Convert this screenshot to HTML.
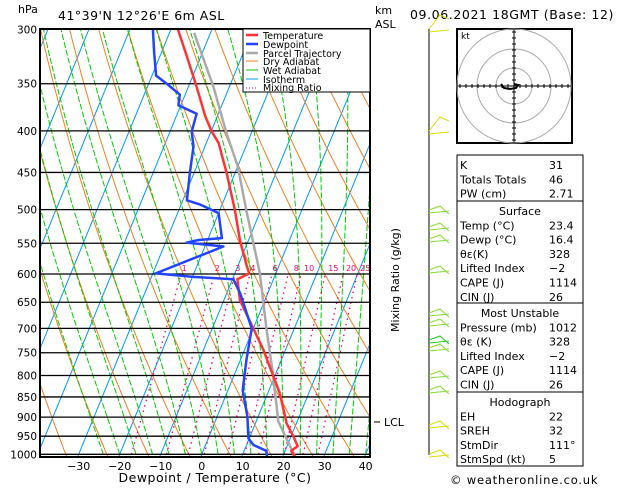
<!DOCTYPE html>
<html><head><meta charset="utf-8">
<style>
html,body{margin:0;padding:0;background:#fff;}
body{width:629px;height:486px;overflow:hidden;font-family:"Liberation Sans","DejaVu Sans",sans-serif;}
svg text{font-family:"DejaVu Sans","Liberation Sans",sans-serif;}
</style></head>
<body>
<svg id="chart" width="629" height="486" viewBox="0 0 629 486" xmlns="http://www.w3.org/2000/svg">
<defs><clipPath id="plotclip"><rect x="40" y="29" width="330" height="428"/></clipPath></defs>
<g id="bg" clip-path="url(#plotclip)"></g>
<g id="plines"></g>
<g id="series" clip-path="url(#plotclip)"></g>
<g id="mixlabels"></g>
<rect x="40" y="29" width="330" height="428" fill="none" stroke="#000" stroke-width="2"/>
<g id="axes"></g>
<text x="18" y="13" font-size="11">hPa</text>
<text x="58" y="20" font-size="12.5" letter-spacing="0.5">41°39'N  12°26'E  6m  ASL</text>
<text x="375" y="14" font-size="11">km</text>
<text x="375" y="28" font-size="11">ASL</text>
<text x="215" y="482" font-size="12.5" text-anchor="middle" letter-spacing="0.5">Dewpoint / Temperature (°C)</text>
<text transform="translate(399,280) rotate(-90)" font-size="11" text-anchor="middle">Mixing Ratio (g/kg)</text>
<line x1="374" y1="422" x2="380" y2="422" stroke="#000"/>
<text x="384" y="426" font-size="11">LCL</text>
<g>
<rect x="243" y="29" width="127" height="63" fill="#fff" stroke="#000" stroke-width="1"/>
<g font-size="9.5">
<line x1="246" y1="35" x2="258" y2="35" stroke="#f33" stroke-width="2.5"/><text x="263" y="39">Temperature</text>
<line x1="246" y1="44" x2="258" y2="44" stroke="#2244ff" stroke-width="2.5"/><text x="263" y="48">Dewpoint</text>
<line x1="246" y1="53" x2="258" y2="53" stroke="#aaa" stroke-width="2.5"/><text x="263" y="57">Parcel Trajectory</text>
<line x1="246" y1="61" x2="258" y2="61" stroke="#f08020" stroke-width="1"/><text x="263" y="65">Dry Adiabat</text>
<line x1="246" y1="70" x2="258" y2="70" stroke="#0c0" stroke-width="1"/><text x="263" y="74">Wet Adiabat</text>
<line x1="246" y1="79" x2="258" y2="79" stroke="#09f" stroke-width="1"/><text x="263" y="83">Isotherm</text>
<line x1="246" y1="88" x2="258" y2="88" stroke="#e07" stroke-width="1" stroke-dasharray="1,2"/><text x="263" y="91">Mixing Ratio</text>
</g></g>
<text x="410" y="19" font-size="12.5" letter-spacing="0.6">09.06.2021 18GMT (Base: 12)</text>
<g id="wind">
<line x1="429" y1="29" x2="429" y2="455" stroke="#000" stroke-width="1"/>
</g>
<g id="hodo">
<rect x="457" y="29" width="115" height="114" fill="#fff" stroke="#000" stroke-width="2"/>
<text x="461" y="39" font-size="9">kt</text>
</g>
<g id="table" font-size="11"></g>
<text x="450" y="484" font-size="11.5" letter-spacing="0.8">© weatheronline.co.uk</text>
</svg>
<script>
// ---- data ----
var tempP = [300,324,353,384,401,414,451,500,545,585,599,609,646,700,744,842,916,951,977,990,1012];
var tempT = [-48.3,-43.4,-38.0,-32.9,-29.8,-27.0,-22.0,-16.4,-12.1,-8.0,-6.5,-8.8,-6.1,0.0,4.6,13.0,17.6,20.6,22.6,21.5,23.4];
var dewP = [300,321,342,350,361,372,381,401,418,451,487,493,505,542,545,549,555,599,605,609,634,700,766,834,899,956,974,990,1012];
var dewT = [-54.4,-51.7,-49.0,-45.6,-41.3,-40.6,-35.3,-34.7,-32.8,-31.0,-29.0,-25.3,-20.0,-16.7,-22.2,-24.8,-15.5,-29.3,-19.8,-9.8,-6.7,-0.4,1.5,3.6,7.4,9.8,11.7,15.4,16.4];
var parcelP = [1012,911,799,700,599,550,505,443,403,353,303];
var parcelT = [23.4,15.4,9.5,3.2,-3.9,-8.5,-13.1,-19.9,-26.0,-33.9,-44.0];
var pressureTicks = [300,350,400,450,500,550,600,650,700,750,800,850,900,950,1000];
var tempTicks = [-30,-20,-10,0,10,20,30,40];
var mixRatios = [1,2,3,4,6,8,10,15,20,25];
var mixLabels = ["1","2","3","4","6","8","10","15","20","25"];
var indexLabels = ["K","Totals Totals","PW (cm)"];
var indexValues = ["31","46","2.71"];
var surfLabels = ["Temp (°C)","Dewp (°C)","θε(K)","Lifted Index","CAPE (J)","CIN (J)"];
var surfValues = ["23.4","16.4","328","−2","1114","26"];
var muLabels = ["Pressure (mb)","θε (K)","Lifted Index","CAPE (J)","CIN (J)"];
var muValues = ["1012","328","−2","1114","26"];
var hodoLabels = ["EH","SREH","StmDir","StmSpd (kt)"];
var hodoValues = ["22","32","111°","5"];

// ---- axis functions ----
var NS="http://www.w3.org/2000/svg";
function yOf(p){return 29.3+425*Math.log(p/300)/Math.log(1000/300);}
function xOf(T,p){return 201.7+4.1*T+0.41*(454.3-yOf(p));}
function mk(tag,a,parent){var e=document.createElementNS(NS,tag);for(var k in a)e.setAttribute(k,a[k]);parent.appendChild(e);return e;}
function path(pts){return pts.map(function(q,i){return (i?"L":"M")+q[0].toFixed(1)+","+q[1].toFixed(1);}).join("");}
var bg=document.getElementById("bg"),series=document.getElementById("series"),axes=document.getElementById("axes"),pl=document.getElementById("plines"),ml=document.getElementById("mixlabels");

for(var T=-110;T<=40;T+=10){
  var e=mk("line",{x1:xOf(T,1050),y1:yOf(1050),x2:xOf(T,280),y2:yOf(280),stroke:"#09f","stroke-width":1},bg);
  
  
}
for(var th=230;th<=470;th+=10){
  var pts=[];for(var p=1050;p>=280;p-=10){pts.push([xOf(th*Math.pow(p/1000,0.286)-273.15,p),yOf(p)]);}
  var e=mk("path",{d:path(pts),fill:"none",stroke:"#f08020","stroke-width":1},bg);
  
  
}
function es(t){return 6.112*Math.exp(17.67*t/(t+243.5));}
for(var t0=-24;t0<=40;t0+=4){
  var Tk=t0+273.15,pts=[[xOf(t0,1000),yOf(1000)]];
  for(var p=1000;p>280;p-=5){
    var tc=Tk-273.15,e0=es(tc),rs=0.622*e0/(p-e0);
    var d=(287*Tk+2.5e6*rs)/(1004+2.5e6*2.5e6*rs*0.622/(287*Tk*Tk))/p;
    Tk-=d*5;pts.push([xOf(Tk-273.15,p-5),yOf(p-5)]);
  }
  var e=mk("path",{d:path(pts),fill:"none",stroke:"#0c0","stroke-width":1,"stroke-dasharray":"6,2"},bg);
  
  
}
function tdOf(w,p){var e=w/1000*p/(0.622+w/1000);var l=Math.log(e/6.112);return 243.5*l/(17.67-l);}
mixRatios.forEach(function(w,i){
  var e=mk("line",{x1:xOf(tdOf(w,1000),1000),y1:yOf(1000),x2:xOf(tdOf(w,600),600),y2:yOf(600),stroke:"#e07","stroke-width":1.3,"stroke-dasharray":"1.5,4"},bg);
  
  
  var t=mk("text",{x:xOf(tdOf(w,600),600)+(w>=8?8:3),y:271,"font-size":8,fill:"#e07","text-anchor":"middle"},ml);
  t.textContent=mixLabels[i];
  
  
});
pressureTicks.forEach(function(p){
  var y=yOf(p);
  var e=mk("line",{x1:40,y1:y,x2:370,y2:y,stroke:"#000","stroke-width":1.3},pl);
  
  
  var t=mk("text",{x:37,y:y+4,"font-size":10.5,"text-anchor":"end"},axes);
  t.textContent=p;
  
  
});
tempTicks.forEach(function(T){
  var t=mk("text",{x:xOf(T,1000),y:470,"font-size":11,"text-anchor":"middle"},axes);
  t.textContent=T<0?"−"+(-T):T;
  
  
});
function line(P,Tv,col,w,name){
  var pts=P.map(function(p,i){return [xOf(Tv[i],p),yOf(p)];});
  var e=mk("path",{d:path(pts),fill:"none",stroke:col,"stroke-width":w,"stroke-linejoin":"round"},series);
  
  
}
line(parcelP,parcelT,"#aaa",2.5,"parcel-trajectory");
line(tempP,tempT,"#f33",2.5,"temperature-line");
line(dewP,dewT,"#2244ff",2.5,"dewpoint-line");

var wind=document.getElementById("wind");
var barbY=[29,131,210,227,239,270,313,323,340,348,375,390,425,454];
var barbC=["#dd0","#dd0","#8d3","#8d3","#8d3","#8d3","#8d3","#8d3","#2c2","#8d3","#8d3","#8d3","#dd0","#dd0"];
barbY.forEach(function(y,i){
  var e=mk("path",{d:"M429,"+y+" L440,"+(y+(i<2?-14:-4))+" L449,"+(y+(i<2?-10:4))+" M429,"+(y+3)+" L449,"+(y+1),fill:"none",stroke:barbC[i],"stroke-width":1},wind);
  
  
});
var hodo=document.getElementById("hodo");
[18,37,57].forEach(function(r){
  var c=mk("circle",{cx:514,cy:86,r:r,fill:"none",stroke:"#aaa","stroke-width":1},hodo);
  
  
});
var ax=mk("path",{d:"M458,86H571M514,30V142",stroke:"#000","stroke-width":1},hodo);


var tk="";for(var i=-9;i<=9;i++){if(i){tk+="M"+(514+i*6)+",84V88M512,"+(86+i*6)+"H516";}}
var tks=mk("path",{d:tk,stroke:"#000","stroke-width":1},hodo);


var hl=mk("path",{d:"M501,84 L504,88 L510,89 L516,88 L518,85 L514,84",fill:"none",stroke:"#000","stroke-width":2},hodo);


var tab=document.getElementById("table");
function box(y0,h,title,labels,values){
  var r=mk("rect",{x:457,y:y0,width:126,height:h,fill:"#fff",stroke:"#000","stroke-width":1},tab);
  
  
  var y=y0+14;
  if(title){var t=mk("text",{x:520,y:y,"text-anchor":"middle"},tab);t.textContent=title;
    
    
    y+=14.3;}
  labels.forEach(function(l,i){
    var a=mk("text",{x:460,y:y},tab);a.textContent=l;
    
    
    var b=mk("text",{x:549,y:y},tab);b.textContent=values[i];
    
    
    y+=14.3;
  });
}
box(155,46,null,indexLabels,indexValues);
box(201,102,"Surface",surfLabels,surfValues);
box(303,89,"Most Unstable",muLabels,muValues);
box(392,74,"Hodograph",hodoLabels,hodoValues);
</script>
</body></html>
